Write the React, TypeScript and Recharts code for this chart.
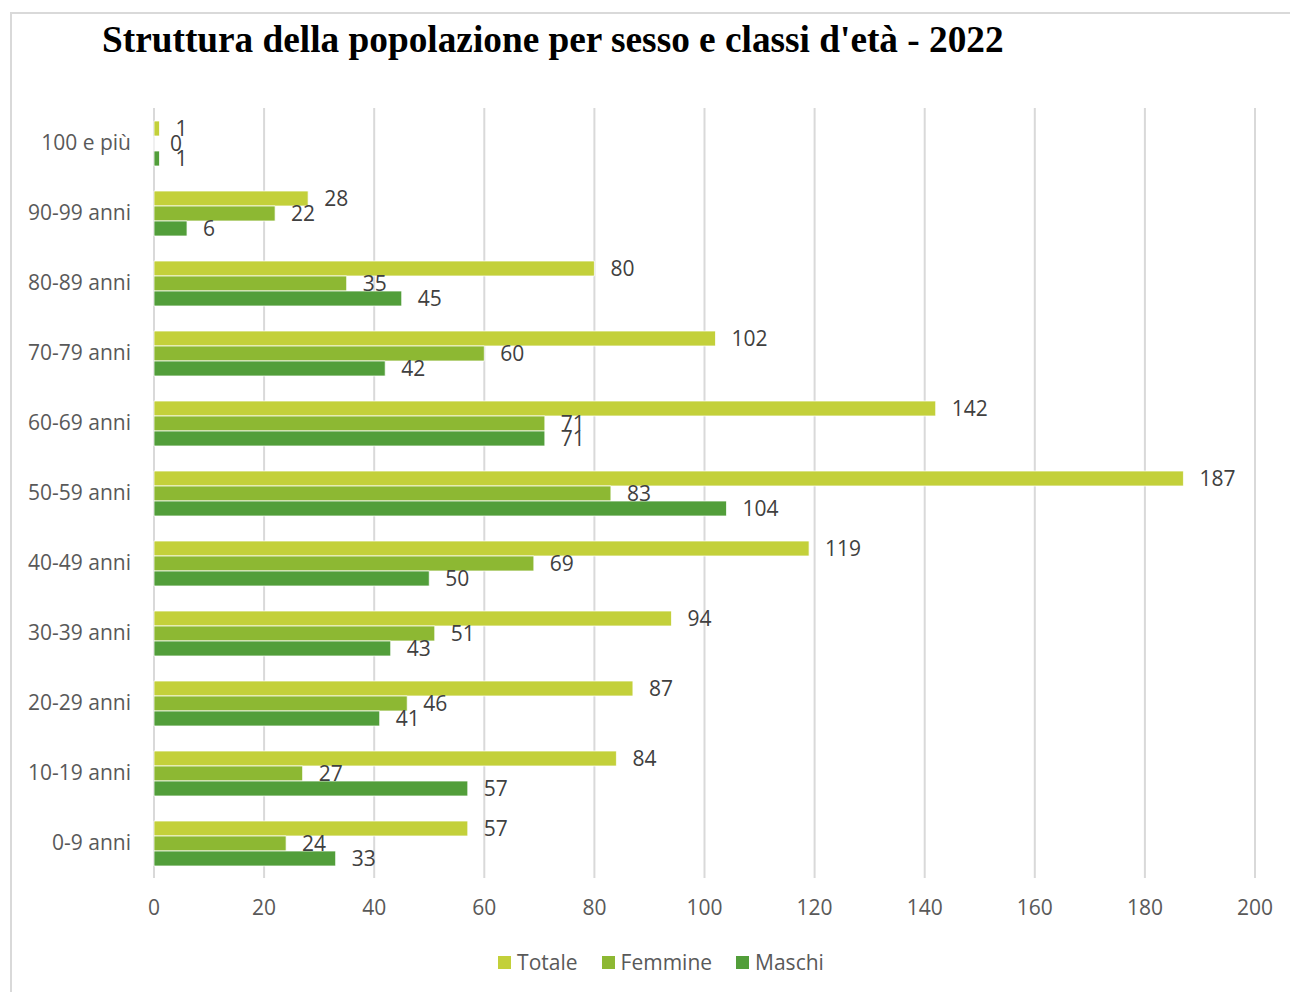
import React from "react";
import { BarChart, Bar, XAxis, YAxis, CartesianGrid, Legend, LabelList } from "recharts";

const ageClasses = [
  "0-9 anni",
  "10-19 anni",
  "20-29 anni",
  "30-39 anni",
  "40-49 anni",
  "50-59 anni",
  "60-69 anni",
  "70-79 anni",
  "80-89 anni",
  "90-99 anni",
  "100 e più",
];
const totale = [57, 84, 87, 94, 119, 187, 142, 102, 80, 28, 1];
const femmine = [24, 27, 46, 51, 69, 83, 71, 60, 35, 22, 0];
const maschi = [33, 57, 41, 43, 50, 104, 71, 42, 45, 6, 1];
const xTicks = [0, 20, 40, 60, 80, 100, 120, 140, 160, 180, 200];
const seriesOrder = ["Totale", "Femmine", "Maschi"];

const data = ageClasses.map((classe, i) => ({
  classe,
  Totale: totale[i],
  Femmine: femmine[i],
  Maschi: maschi[i],
}));

const FONT = "'Open Sans', sans-serif";
const colors = { Totale: "#c3d03a", Femmine: "#8db833", Maschi: "#529e3a" };

function LegendContent({ payload }: any) {
  const items = [...(payload || [])].sort(
    (a: any, b: any) => seriesOrder.indexOf(a.value) - seriesOrder.indexOf(b.value)
  );
  return (
    <div style={{ display: "flex", justifyContent: "center", fontFamily: FONT, fontSize: 21, color: "#595959" }}>
      {items.map((p: any) => (
        <div key={p.value} style={{ display: "flex", alignItems: "center", margin: "0 12px" }}>
          <span style={{ width: 13, height: 13, background: p.color, display: "inline-block", marginRight: 6 }} />
          <span>{p.value}</span>
        </div>
      ))}
    </div>
  );
}

// keeps a zero-length bar so that its "0" label is still drawn
const zeroSize = (v: any) => (v === 0 ? 0.001 : 0);

export default function App() {
  const labelStyle = { fill: "#404040", fontSize: 21, fontFamily: FONT };
  return (
    <div style={{ position: "absolute", top: 0, left: 0, width: 1290, height: 992, overflow: "hidden", background: "#fff" }}>
      <div style={{ position: "absolute", left: 10, top: 12, width: 1300, height: 1000, border: "2px solid #d9d9d9" }} />
      <div
        style={{
          position: "absolute",
          left: 102,
          top: 18,
          fontFamily: "'Liberation Serif', 'Times New Roman', serif",
          fontWeight: "bold",
          fontSize: 37.3,
          color: "#000",
          whiteSpace: "nowrap",
        }}
      >
        Struttura della popolazione per sesso e classi d'età - 2022
      </div>
      <div style={{ position: "absolute", top: 0, left: 0 }}>
        <BarChart
          width={1290}
          height={992}
          data={data}
          layout="vertical"
          margin={{ top: 108, right: 35, bottom: 46, left: 10 }}
          barCategoryGap={13}
          barGap={0}
        >
          <CartesianGrid horizontal={false} stroke="#d9d9d9" strokeWidth={2} />
          <XAxis
            type="number"
            domain={[0, 200]}
            ticks={xTicks}
            axisLine={false}
            tickLine={false}
            tickMargin={16}
            height={40}
            tick={{ fill: "#595959", fontSize: 21, fontFamily: FONT }}
          />
          <YAxis
            type="category"
            dataKey="classe"
            reversed
            width={144}
            axisLine={false}
            tickLine={false}
            tickMargin={17}
            tick={{ fill: "#595959", fontSize: 21, fontFamily: FONT }}
          />
          <Legend
            content={<LegendContent />}
            wrapperStyle={{ position: "absolute", top: 948, left: 32, width: 1258 }}
          />
          <Bar dataKey="Totale" fill={colors.Totale} stroke="#fff" strokeWidth={0.75} minPointSize={zeroSize} isAnimationActive={false}>
            <LabelList dataKey="Totale" position="right" offset={16} style={labelStyle} />
          </Bar>
          <Bar dataKey="Femmine" fill={colors.Femmine} stroke="#fff" strokeWidth={0.75} minPointSize={zeroSize} isAnimationActive={false}>
            <LabelList dataKey="Femmine" position="right" offset={16} style={labelStyle} />
          </Bar>
          <Bar dataKey="Maschi" fill={colors.Maschi} stroke="#fff" strokeWidth={0.75} minPointSize={zeroSize} isAnimationActive={false}>
            <LabelList dataKey="Maschi" position="right" offset={16} style={labelStyle} />
          </Bar>
        </BarChart>
      </div>
    </div>
  );
}
